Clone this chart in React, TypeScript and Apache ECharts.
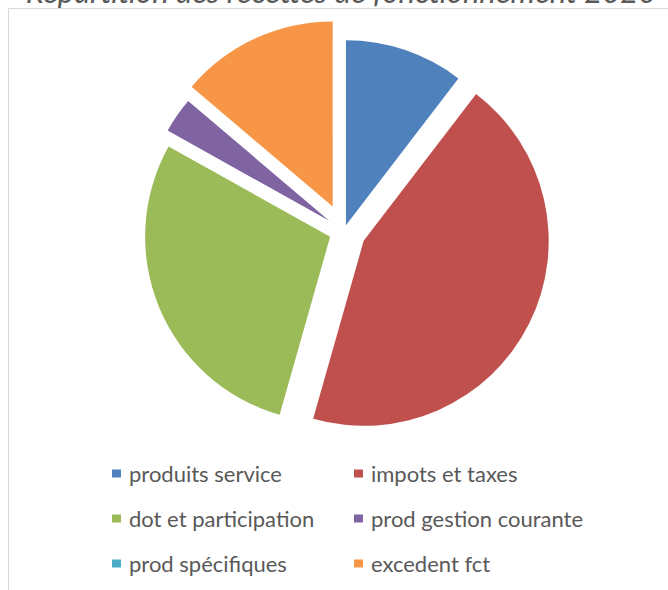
import React, { useEffect, useRef } from "react";
import * as echarts from "echarts";

const titleText = "Répartition des recettes de fonctionnement 2020";
const categories = [
  "produits service",
  "impots et taxes",
  "dot et participation",
  "prod gestion courante",
  "prod spécifiques",
  "excedent fct",
];
const values = [10.4, 44.0, 28.7, 3.1, 0, 13.8];
const colors = ["#4F81BD", "#C0504D", "#9BBB59", "#8064A2", "#4BACC6", "#F79646"];
// per-slice explosion distance (px), as in the original chart
const explode = [6, 22, 15, 18, 0, 27];

const leftColumn = [categories[0], categories[2], categories[4]];
const rightColumn = [categories[1], categories[3], categories[5]];

export default function App() {
  const ref = useRef<HTMLDivElement>(null);
  useEffect(() => {
    if (!ref.current) return;
    const chart = echarts.init(ref.current, undefined, { renderer: "svg" });
    const cx = 344;
    const cy = 231;
    const R = 185;
    const total = values.reduce((a, b) => a + b, 0);
    let cum = 0;
    const series: any[] = values.map((v, i) => {
      const mid = ((cum + v / 2) / total) * 2 * Math.PI;
      cum += v;
      const ox = cx + explode[i] * Math.sin(mid);
      const oy = cy - explode[i] * Math.cos(mid);
      return {
        type: "pie",
        radius: R,
        center: [ox, oy],
        startAngle: 90,
        clockwise: true,
        silent: true,
        avoidLabelOverlap: false,
        label: { show: false },
        labelLine: { show: false },
        emphasis: { disabled: true },
        itemStyle: { borderWidth: 0 },
        data: values.map((val, j) => ({
          name: j === i ? categories[j] : `_${i}_${j}`,
          value: val,
          itemStyle: { color: j === i ? colors[j] : "rgba(0,0,0,0)", borderWidth: 0 },
        })),
      };
    });
    const legendCommon = {
      orient: "vertical",
      icon: "rect",
      itemWidth: 9,
      itemHeight: 8,
      itemGap: 23,
      padding: 0,
      selectedMode: false,
      textStyle: {
        fontFamily: "Lato",
        fontSize: 22,
        color: "#595959",
        lineHeight: 22,
        padding: [0, 0, 0, 3],
      },
    };
    chart.setOption({
      animation: false,
      backgroundColor: "#ffffff",
      legend: [
        { ...legendCommon, data: leftColumn, left: 112, top: 462.5 },
        { ...legendCommon, data: rightColumn, left: 354, top: 462.5 },
      ],
      graphic: [
        {
          type: "rect",
          shape: { x: 8.5, y: 8.5, width: 720, height: 700 },
          style: { fill: "none", stroke: "#d9d9d9", lineWidth: 1 },
          silent: true,
        },
        {
          type: "text",
          x: 341,
          y: 6,
          style: {
            text: titleText,
            fontFamily: "Lato",
            fontStyle: "italic",
            fontSize: 31,
            fill: "#595959",
            textAlign: "center",
            textVerticalAlign: "bottom",
          },
          silent: true,
        },
      ],
      series,
    });
    return () => chart.dispose();
  }, []);
  return (
    <div
      ref={ref}
      style={{ position: "fixed", left: 0, top: 0, width: 668, height: 590 }}
    />
  );
}
